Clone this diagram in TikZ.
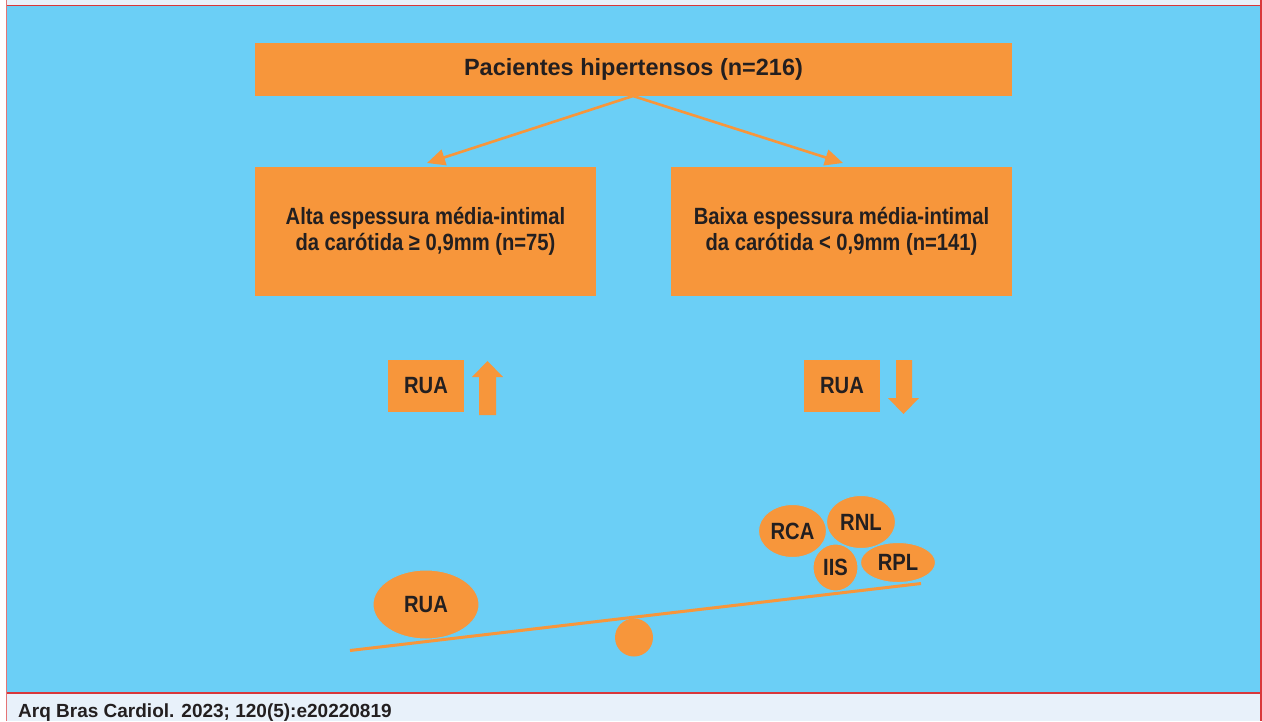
\documentclass[tikz,border=0pt]{standalone}
\usepackage{fontspec}
\setmainfont{Liberation Sans}
\newfontfamily\condfont{Liberation Sans}[FakeStretch=0.86]
\usetikzlibrary{arrows.meta,shapes.geometric}
\definecolor{bgblue}{HTML}{6BCFF6}
\definecolor{orng}{HTML}{F7963B}
\definecolor{band}{HTML}{E8F1FA}
\definecolor{frame}{HTML}{D9383A}
\definecolor{ink}{HTML}{231F20}
\tikzset{
  obox/.style={fill=orng, draw=none, inner sep=0pt, text=ink, align=center},
  condtext/.style={font=\condfont\bfseries\fontsize{23.5}{26.5}\selectfont},
  oell/.style={ellipse, fill=orng, draw=bgblue, line width=1pt, inner sep=0pt, text=ink,
    font=\condfont\bfseries\fontsize{23.5}{26.5}\selectfont},
  conn/.style={draw=orng, line width=2.6pt, -{Triangle[length=18pt,width=16pt]}},
}
\begin{document}
\begin{tikzpicture}[x=1pt,y=-1pt]
\useasboundingbox (0,0) rectangle (1262,721);
% background
\fill[band] (0,0) rectangle (1262,721);
\fill[white] (0,0) rectangle (6,721);
\fill[bgblue] (6.5,5.5) rectangle (1261,693);
\draw[frame, line width=1.2pt] (6.5,5.5) -- (1261,5.5);
\draw[frame, line width=1.2pt] (6.5,693) -- (1261,693);
\draw[frame!70, line width=1.5pt] (6.5,0) -- (6.5,721);
\draw[frame, line width=1.2pt] (1261,0) -- (1261,721);
% boxes
\node[obox, minimum width=757pt, minimum height=53pt, font=\bfseries\fontsize{23.5}{26.5}\selectfont] (top) at (633.5,69.5) {Pacientes hipertensos (n=216)};
\node[obox, condtext, minimum width=341pt, minimum height=129pt] (left) at (425.5,231.5) {Alta espessura média-intimal\\da carótida ≥ 0,9mm (n=75)};
\node[obox, condtext, minimum width=341pt, minimum height=129pt] (right) at (841.5,231.5) {Baixa espessura média-intimal\\da carótida < 0,9mm (n=141)};
% connectors
\coordinate (apex) at (633,96);
\coordinate (lt) at (427,163);
\coordinate (rt) at (843,163);
\draw[conn] (apex) -- (lt);
\draw[conn] (apex) -- (rt);
% RUA boxes
\node[obox, condtext, minimum width=76pt, minimum height=52pt] (ruaL) at (426,386) {RUA};
\node[obox, condtext, minimum width=76pt, minimum height=52pt] (ruaR) at (842,386) {RUA};
% block arrows
\fill[orng] (479,415) -- (479,377) -- (472,377) -- (487.5,361) -- (503,377) -- (496,377) -- (496,415) -- cycle;
\fill[orng] (896,360) -- (896,398) -- (888,398) -- (903.5,414) -- (919,398) -- (912,398) -- (912,360) -- cycle;
% balance
\coordinate (bl) at (350,650.5);
\coordinate (br) at (921,583.5);
\node[oell, minimum width=106pt, minimum height=69pt] (ruaE) at (426,604.5) {RUA};
\draw[orng, line width=3pt] (bl) -- (br);
\fill[orng] (634,637.5) circle (19);
\node[oell, minimum width=68pt, minimum height=53pt] (rca) at (792.5,531) {RCA};
\node[oell, minimum width=69pt, minimum height=53pt] (rnl) at (861,522) {RNL};
\node[oell, minimum width=45pt, minimum height=47pt] (iis) at (835.5,567.5) {IIS};
\node[oell, minimum width=75pt, minimum height=40pt] (rpl) at (898,562.5) {RPL};
% footer
\node[anchor=base west, inner sep=0pt, text=ink, font=\bfseries\fontsize{19}{22}\selectfont] (foot) at (18,717) {Arq Bras Cardiol. 2023; 120(5):e20220819};
\end{tikzpicture}
\end{document}
